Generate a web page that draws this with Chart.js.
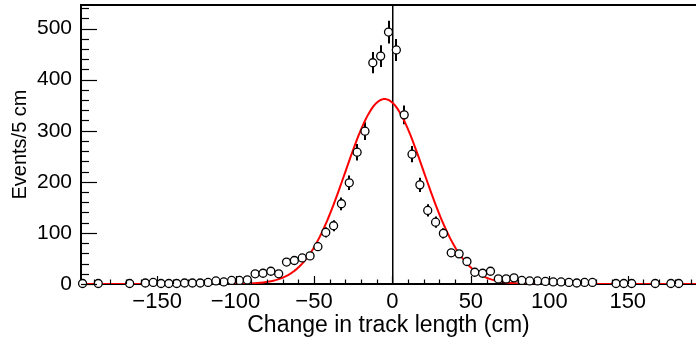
<!DOCTYPE html>
<html>
<head>
<meta charset="utf-8">
<script src="https://cdn.jsdelivr.net/npm/chart.js@4.4.1/dist/chart.umd.min.js"></script>
<style>
  html, body { margin: 0; padding: 0; background: #fff; overflow: hidden; }
</style>
</head>
<body>
<canvas id="trackChart" width="696" height="341"></canvas>
<script>
// bin centres (cm), 5 cm bins; empty bins are left out
const binCenters = [
  -197.5, -187.5, -167.5, -157.5, -152.5, -147.5, -142.5, -137.5, -132.5, -127.5,
  -122.5, -117.5, -112.5, -107.5, -102.5, -97.5, -92.5, -87.5, -82.5, -77.5,
  -72.5, -67.5, -62.5, -57.5, -52.5, -47.5, -42.5, -37.5, -32.5, -27.5,
  -22.5, -17.5, -12.5, -7.5, -2.5, 2.5, 7.5, 12.5, 17.5, 22.5,
  27.5, 32.5, 37.5, 42.5, 47.5, 52.5, 57.5, 62.5, 67.5, 72.5,
  77.5, 82.5, 87.5, 92.5, 97.5, 102.5, 107.5, 112.5, 117.5, 122.5,
  127.5, 142.5, 147.5, 152.5, 167.5, 177.5, 182.5
];
// events per bin
const counts = [
  1, 1, 1, 2, 3, 1, 1, 1, 2, 2,
  2, 3, 6, 4, 7, 7, 8, 20, 21, 25,
  20, 43, 46, 51, 55, 73, 101, 114, 157, 198,
  258, 299, 433, 446, 493, 458, 331, 254, 194, 144,
  121, 99, 61, 59, 44, 23, 21, 25, 10, 10,
  12, 7, 6, 6, 5, 4, 4, 3, 2, 3,
  3, 1, 1, 1, 1, 1, 1
];
// vertical error bars (half length, events)
const errors = [
  1, 1, 1, 1.4, 1.7, 1, 1, 1, 1.4, 1.4,
  1.4, 1.7, 2.4, 2, 2.6, 2.6, 2.8, 4.5, 4.6, 5,
  4.5, 6.6, 6.8, 7.1, 7.4, 8.5, 10, 10.7, 12.5, 14.1,
  16.1, 17.3, 20.8, 21.1, 22.2, 21.4, 18.2, 15.9, 13.9, 12,
  11, 9.9, 7.8, 7.7, 6.6, 4.8, 4.6, 5, 3.2, 3.2,
  3.5, 2.6, 2.4, 2.4, 2.2, 2, 2, 1.7, 1.4, 1.7,
  1.7, 1, 1, 1, 1, 1, 1
];
const xTicks = [-150, -100, -50, 0, 50, 100, 150];
const yTicks = [0, 100, 200, 300, 400, 500];

// gaussian fit parameters
const fitAmp = 362;
const fitMean = -5;
const fitSigma = 25;

const xMin = -198.5, xMax = 193.5;
const yMin = 0, yMax = 546;

const fitCurve = [];
for (let x = xMin; x <= xMax; x += 1) {
  fitCurve.push({ x: x, y: fitAmp * Math.exp(-0.5 * Math.pow((x - fitMean) / fitSigma, 2)) });
}
const points = binCenters.map((c, i) => ({ x: c, y: counts[i] }));

// error bars under the markers
const errorBars = {
  id: "errorBars",
  beforeDatasetsDraw(chart) {
    const { ctx, scales: { x, y } } = chart;
    ctx.save();
    ctx.strokeStyle = "#000";
    ctx.lineWidth = 2;
    binCenters.forEach((c, i) => {
      const px = Math.round(x.getPixelForValue(c));
      ctx.beginPath();
      ctx.moveTo(px, y.getPixelForValue(counts[i] - errors[i]));
      ctx.lineTo(px, y.getPixelForValue(counts[i] + errors[i]));
      ctx.stroke();
    });
    ctx.restore();
  }
};

// ROOT style frame: top line and ticks pointing inside
const frameTicks = {
  id: "frameTicks",
  afterDraw(chart) {
    const { ctx, chartArea: a, scales: { x, y } } = chart;
    ctx.save();
    ctx.strokeStyle = "#000";
    ctx.lineWidth = 2;
    ctx.beginPath();
    ctx.moveTo(a.left - 1, a.top);
    ctx.lineTo(a.right, a.top);
    ctx.stroke();

    ctx.lineWidth = 1.2;
    for (let v = -190; v <= 190; v += 10) {
      if (v < xMin || v > xMax) continue;
      const px = Math.round(x.getPixelForValue(v)) + 0.5;
      const len = v % 50 === 0 ? 8 : 4.5;
      ctx.beginPath();
      ctx.moveTo(px, a.bottom);
      ctx.lineTo(px, a.bottom - len);
      ctx.stroke();
    }
    for (let v = 0; v <= yMax; v += 20) {
      const py = Math.round(y.getPixelForValue(v)) + 0.5;
      const len = v % 100 === 0 ? 16 : 8;
      ctx.beginPath();
      ctx.moveTo(a.left, py);
      ctx.lineTo(a.left + len, py);
      ctx.stroke();
    }
    ctx.restore();
  }
};

const minusSign = v => (v < 0 ? "\u2212" + Math.abs(v) : String(v));

new Chart(document.getElementById("trackChart").getContext("2d"), {
  type: "scatter",
  data: {
    datasets: [
      {
        label: "data",
        data: points,
        order: 1,
        pointStyle: "circle",
        pointRadius: 4,
        pointBorderWidth: 1.3,
        pointBorderColor: "#000",
        pointBackgroundColor: "#fff",
        clip: false
      },
      {
        label: "fit",
        type: "line",
        data: fitCurve,
        order: 2,
        borderColor: "#ff0000",
        borderWidth: 2,
        pointRadius: 0,
        fill: false,
        tension: 0
      }
    ]
  },
  options: {
    responsive: false,
    animation: false,
    devicePixelRatio: 1,
    layout: { autoPadding: false, padding: { top: 5, right: 0, left: 0, bottom: 0 } },
    plugins: { legend: { display: false }, tooltip: { enabled: false } },
    scales: {
      x: {
        type: "linear",
        min: xMin,
        max: xMax,
        afterBuildTicks: s => { s.ticks = xTicks.map(v => ({ value: v })); },
        afterFit: s => { s.height = 57; s.paddingLeft = 0; s.paddingRight = 0; },
        grid: {
          drawTicks: false,
          lineWidth: 1.5,
          color: c => (c.tick && c.tick.value === 0 ? "#000" : "rgba(0,0,0,0)")
        },
        border: { display: true, color: "#000", width: 2 },
        ticks: {
          callback: minusSign,
          color: "#000",
          padding: 5,
          maxRotation: 0,
          autoSkip: false,
          font: { family: "Liberation Sans", size: 22 }
        },
        title: {
          display: true,
          text: "Change in track length (cm)",
          color: "#000",
          padding: { top: 0, bottom: 2 },
          font: { family: "Liberation Sans", size: 23 }
        }
      },
      y: {
        type: "linear",
        min: yMin,
        max: yMax,
        afterBuildTicks: s => { s.ticks = yTicks.map(v => ({ value: v })); },
        afterFit: s => { s.width = 81; s.paddingTop = 0; s.paddingBottom = 0; },
        grid: { display: false, drawTicks: false },
        border: { display: true, color: "#000", width: 2 },
        ticks: {
          color: "#000",
          padding: 9,
          font: { family: "Liberation Sans", size: 21 }
        },
        title: {
          display: true,
          text: "Events/5 cm",
          color: "#000",
          padding: { top: 8, bottom: 0 },
          font: { family: "Liberation Sans", size: 20 }
        }
      }
    }
  },
  plugins: [errorBars, frameTicks]
});
</script>
</body>
</html>
